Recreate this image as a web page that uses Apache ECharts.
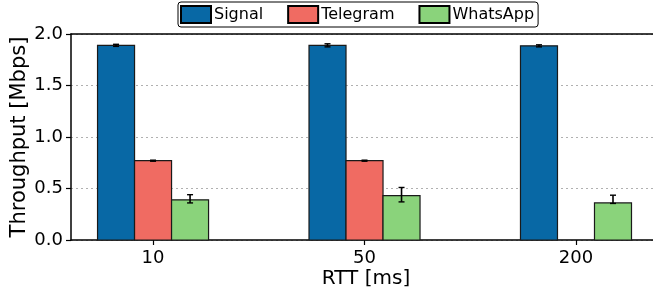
<!DOCTYPE html>
<html>
<head>
    <meta charset="utf-8">
    <title>Throughput vs RTT</title>
    <script src="https://cdn.jsdelivr.net/npm/echarts@6/dist/echarts.min.js"></script>
</head>
<body style="margin:0">
<div id="main" style="width:653px;height:297px;background:#fff"></div>
<script type="text/javascript">
    // data
    var rtt = ['10', '50', '200'];
    var signal = [1.89, 1.89, 1.885];
    var signalLo = [0.01, 0.015, 0.01];
    var signalHi = [0.01, 0.015, 0.01];
    var telegram = [0.77, 0.77, null];
    var telegramLo = [0.005, 0.005, null];
    var telegramHi = [0.005, 0.005, null];
    var whatsapp = [0.39, 0.43, 0.36];
    var whatsappLo = [0.03, 0.06, 0.005];
    var whatsappHi = [0.05, 0.08, 0.075];

    var barW = 0.175;
    var font = 'DejaVu Sans';

    // rows: [pos, value, value - lo, value + hi]
    function toData(vals, lo, hi) {
        var out = [];
        for (var i = 0; i < vals.length; i++) {
            if (vals[i] === null) continue;
            out.push([i, vals[i], vals[i] - lo[i], vals[i] + hi[i]]);
        }
        return out;
    }

    function makeRender(offset) {
        return function (params, api) {
            var x = api.value(0) + offset * barW;
            var v = api.value(1);
            var a = api.coord([x - barW / 2, v]);
            var b = api.coord([x + barW / 2, 0]);
            var lo = api.coord([x, api.value(2)]);
            var hi = api.coord([x, api.value(3)]);
            var c = 3;
            return {
                type: 'group',
                children: [{
                    type: 'rect',
                    shape: {x: a[0], y: a[1], width: b[0] - a[0], height: b[1] - a[1]},
                    style: {fill: api.visual('color'), stroke: '#1a1a1a', lineWidth: 1.2}
                }, {
                    type: 'polyline',
                    shape: {points: [[hi[0] - c, hi[1]], [hi[0] + c, hi[1]]]},
                    style: {stroke: '#000', fill: null, lineWidth: 1.4}
                }, {
                    type: 'polyline',
                    shape: {points: [[hi[0], hi[1]], [lo[0], lo[1]]]},
                    style: {stroke: '#000', fill: null, lineWidth: 1.6}
                }, {
                    type: 'polyline',
                    shape: {points: [[lo[0] - c, lo[1]], [lo[0] + c, lo[1]]]},
                    style: {stroke: '#000', fill: null, lineWidth: 1.4}
                }]
            };
        };
    }

    var colors = {Signal: '#0868a5', Telegram: '#f06b62', WhatsApp: '#8ad37b'};

    function barSeries(name, vals, lo, hi, offset) {
        return {
            name: name, type: 'custom',
            dimensions: ['pos', 'val', 'low', 'high'],
            encode: {x: 0, y: 1},
            itemStyle: {color: colors[name]},
            renderItem: makeRender(offset),
            data: toData(vals, lo, hi)
        };
    }

    var myChart = echarts.init(document.getElementById('main'));
    myChart.setOption({
        animation: false,
        textStyle: {fontFamily: font},
        legend: {
            top: 2,
            left: 178,
            icon: 'rect',
            itemWidth: 30,
            itemHeight: 17,
            itemGap: 24,
            padding: [3, 4, 3, 2],
            borderColor: '#000',
            borderWidth: 1,
            borderRadius: 3,
            textStyle: {fontFamily: font, fontSize: 16, color: '#000', padding: [0, 0, 0, -2]},
            itemStyle: {borderColor: '#000', borderWidth: 2},
            data: ['Signal', 'Telegram', 'WhatsApp']
        },
        grid: {
            left: 71, right: -8, top: 34, bottom: 57,
            outerBoundsMode: 'none',
            containLabel: false
        },
        xAxis: [{
            type: 'value',
            min: -0.388,
            max: 2.402,
            name: 'RTT [ms]',
            nameLocation: 'middle',
            nameMoveOverlap: false,
            nameGap: 29,
            nameTextStyle: {fontFamily: font, fontSize: 20, color: '#000'},
            axisLine: {onZero: false, lineStyle: {color: '#000', width: 1.5}},
            axisTick: {customValues: [0, 1, 2], length: 5, lineStyle: {color: '#000', width: 1.2}},
            axisLabel: {
                customValues: [0, 1, 2],
                fontFamily: font, fontSize: 18, color: '#000', margin: 9,
                formatter: function (v) { return rtt[Math.round(v)]; }
            },
            splitLine: {show: false}
        }, {
            type: 'value',
            position: 'top',
            min: -0.388,
            max: 2.402,
            axisLine: {show: true, onZero: false, lineStyle: {color: '#000', width: 1.5}},
            axisTick: {show: false},
            axisLabel: {show: false},
            splitLine: {show: false}
        }],
        yAxis: {
            type: 'value',
            min: 0,
            max: 2,
            interval: 0.5,
            name: 'Throughput [Mbps]',
            nameLocation: 'middle',
            nameMoveOverlap: false,
            nameGap: 41,
            nameTextStyle: {fontFamily: font, fontSize: 21, color: '#000'},
            axisLine: {show: true, onZero: false, lineStyle: {color: '#000', width: 1.5}},
            axisTick: {show: true, length: 5, lineStyle: {color: '#000', width: 1.2}},
            axisLabel: {
                fontFamily: font, fontSize: 18, color: '#000', margin: 8,
                formatter: function (v) { return v.toFixed(1); }
            },
            splitLine: {show: true, lineStyle: {color: '#b0b0b0', type: [2, 3], width: 1}}
        },
        series: [
            barSeries('Signal', signal, signalLo, signalHi, -1),
            barSeries('Telegram', telegram, telegramLo, telegramHi, 0),
            barSeries('WhatsApp', whatsapp, whatsappLo, whatsappHi, 1)
        ]
    });
</script>
</body>
</html>
